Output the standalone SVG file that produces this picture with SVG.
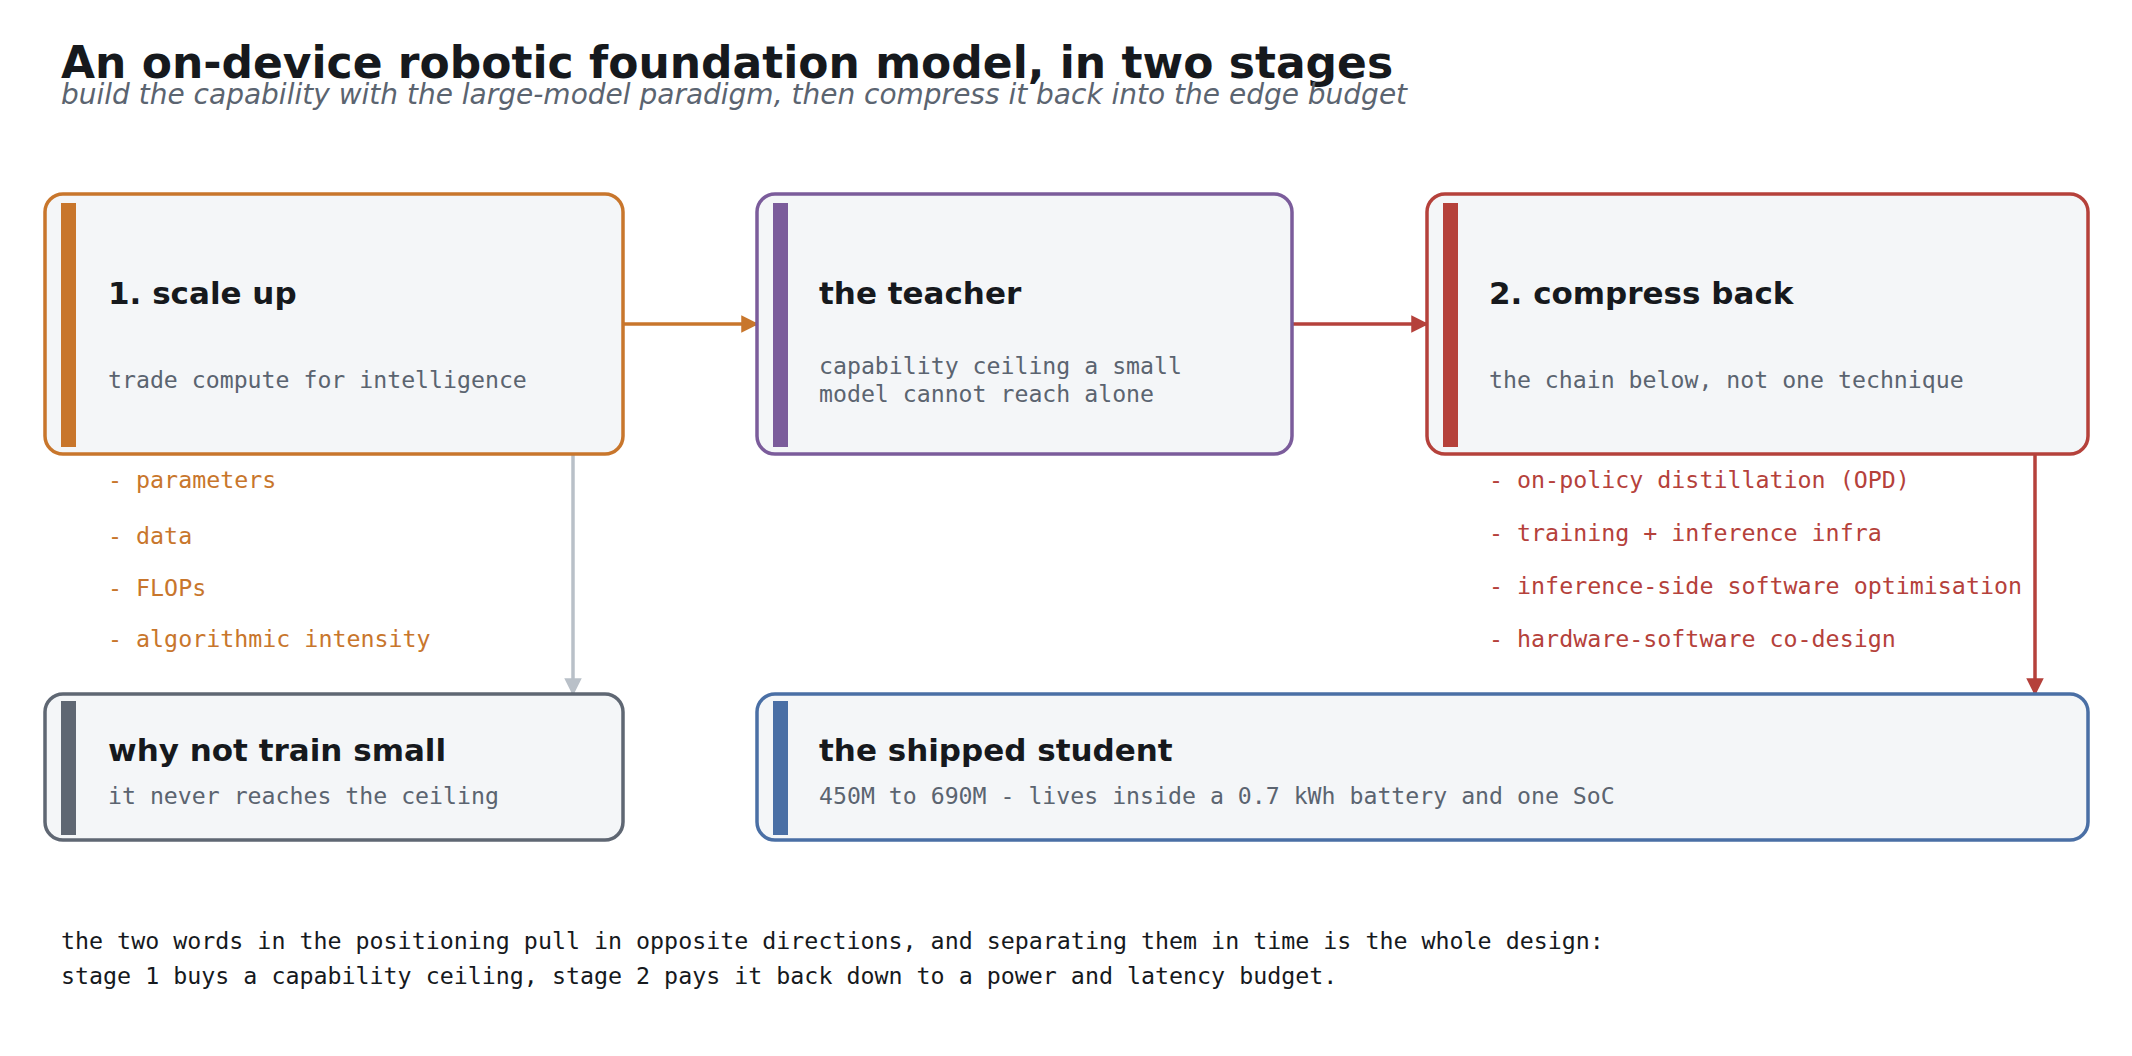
<svg xmlns="http://www.w3.org/2000/svg" width="2132" height="1056" viewBox="0 0 2132 1056">
<style>
.box{fill:#f4f6f8;stroke-width:3.5}
.t{font-family:"DejaVu Sans",sans-serif;font-weight:bold;font-size:31px;fill:#16191d}
.s{font-family:"DejaVu Sans Mono",monospace;font-size:23.2px;fill:#5b6470}
.b{font-family:"DejaVu Sans Mono",monospace;font-size:23.3px}
</style>
<defs>
<marker id="ao" viewBox="0 0 10 10" refX="9" refY="5" markerWidth="5" markerHeight="5" orient="auto"><path d="M0,0L10,5L0,10z" fill="#c8762c"/></marker>
<marker id="ar" viewBox="0 0 10 10" refX="9" refY="5" markerWidth="5" markerHeight="5" orient="auto"><path d="M0,0L10,5L0,10z" fill="#b5413b"/></marker>
<marker id="ag" viewBox="0 0 10 10" refX="9" refY="5" markerWidth="5" markerHeight="5" orient="auto"><path d="M0,0L10,5L0,10z" fill="#b9c0c8"/></marker>
</defs>
<rect width="2132" height="1056" fill="#fff"/>
<text x="61" y="78" font-family="DejaVu Sans,sans-serif" font-weight="bold" font-size="44" fill="#16191d">An on-device robotic foundation model, in two stages</text>
<text x="61" y="104" font-family="DejaVu Sans,sans-serif" font-style="italic" font-size="28" fill="#5b6470">build the capability with the large-model paradigm, then compress it back into the edge budget</text>
<g id="connectors" fill="none" stroke-width="3.5">
<line x1="623" y1="324" x2="757" y2="324" stroke="#c8762c" marker-end="url(#ao)"/>
<line x1="1292" y1="324" x2="1427" y2="324" stroke="#b5413b" marker-end="url(#ar)"/>
<line x1="573" y1="454" x2="573" y2="694" stroke="#b9c0c8" marker-end="url(#ag)"/>
<line x1="2035" y1="454" x2="2035" y2="694" stroke="#b5413b" marker-end="url(#ar)"/>
</g>
<g id="scale-up">
<rect class="box" x="45" y="194" width="578" height="260" rx="18" stroke="#c8762c"/>
<rect x="61" y="203" width="15" height="244" fill="#c8762c"/>
<text class="t" x="108" y="304">1. scale up</text>
<text class="s" x="108" y="388">trade compute for intelligence</text>
<g class="b" fill="#c8762c">
<text x="108" y="488">- parameters</text>
<text x="108" y="544">- data</text>
<text x="108" y="596">- FLOPs</text>
<text x="108" y="647">- algorithmic intensity</text>
</g>
</g>
<g id="teacher">
<rect class="box" x="757" y="194" width="535" height="260" rx="18" stroke="#7b5c9b"/>
<rect x="773" y="203" width="15" height="244" fill="#7b5c9b"/>
<text class="t" x="819" y="304">the teacher</text>
<text class="s" x="819" y="374">capability ceiling a small</text>
<text class="s" x="819" y="402">model cannot reach alone</text>
</g>
<g id="compress">
<rect class="box" x="1427" y="194" width="661" height="260" rx="18" stroke="#b5413b"/>
<rect x="1443" y="203" width="15" height="244" fill="#b5413b"/>
<text class="t" x="1489" y="304">2. compress back</text>
<text class="s" x="1489" y="388">the chain below, not one technique</text>
<g class="b" fill="#b5413b">
<text x="1489" y="488">- on-policy distillation (OPD)</text>
<text x="1489" y="541">- training + inference infra</text>
<text x="1489" y="594">- inference-side software optimisation</text>
<text x="1489" y="647">- hardware-software co-design</text>
</g>
</g>
<g id="why-not">
<rect class="box" x="45" y="694" width="578" height="146" rx="18" stroke="#5f6773"/>
<rect x="61" y="701" width="15" height="134" fill="#5f6773"/>
<text class="t" x="108" y="761">why not train small</text>
<text class="s" x="108" y="804">it never reaches the ceiling</text>
</g>
<g id="student">
<rect class="box" x="757" y="694" width="1331" height="146" rx="18" stroke="#4a6fa5"/>
<rect x="773" y="701" width="15" height="134" fill="#4a6fa5"/>
<text class="t" x="819" y="761">the shipped student</text>
<text class="s" x="819" y="804">450M to 690M - lives inside a 0.7 kWh battery and one SoC</text>
</g>
<g class="b" fill="#16191d">
<text x="61" y="949">the two words in the positioning pull in opposite directions, and separating them in time is the whole design:</text>
<text x="61" y="984">stage 1 buys a capability ceiling, stage 2 pays it back down to a power and latency budget.</text>
</g>
</svg>
